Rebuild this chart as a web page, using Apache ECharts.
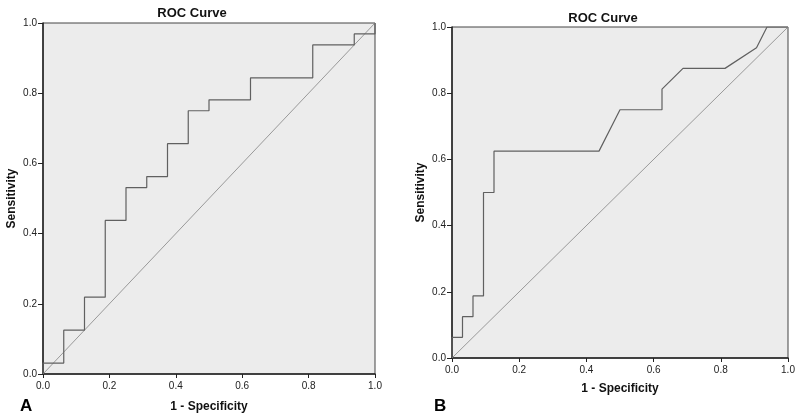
<!DOCTYPE html>
<html>
<head>
<meta charset="utf-8">
<script src="https://cdn.jsdelivr.net/npm/echarts@6/dist/echarts.min.js"></script>
<style>html,body{margin:0;padding:0;background:#fff}#c{width:800px;height:420px}</style>
</head>
<body>
<div id="c"></div>
<script>
// Panel A ROC curve (1 - specificity, sensitivity)
var fprA = [0, 0, 0.0625, 0.0625, 0.125, 0.125, 0.1875, 0.1875, 0.25, 0.25, 0.3125, 0.3125, 0.375, 0.375, 0.4375, 0.4375, 0.5, 0.5, 0.625, 0.625, 0.8125, 0.8125, 0.9375, 0.9375, 1, 1];
var tprA = [0, 0.03125, 0.03125, 0.125, 0.125, 0.21875, 0.21875, 0.4375, 0.4375, 0.53125, 0.53125, 0.5625, 0.5625, 0.65625, 0.65625, 0.75, 0.75, 0.78125, 0.78125, 0.84375, 0.84375, 0.9375, 0.9375, 0.96875, 0.96875, 1];
// Panel B ROC curve
var fprB = [0, 0, 0.03125, 0.03125, 0.0625, 0.0625, 0.09375, 0.09375, 0.125, 0.125, 0.4375, 0.5, 0.625, 0.625, 0.6875, 0.8125, 0.90625, 0.9375, 1];
var tprB = [0, 0.0625, 0.0625, 0.125, 0.125, 0.1875, 0.1875, 0.5, 0.5, 0.625, 0.625, 0.75, 0.75, 0.8125, 0.875, 0.875, 0.9375, 1, 1];
// Reference diagonal
var refX = [0, 1];
var refY = [0, 1];
var tickValues = [0, 0.2, 0.4, 0.6, 0.8, 1.0];
var titleText = 'ROC Curve';
var xName = '1 - Specificity';
var yName = 'Sensitivity';
var panelLabels = ['A', 'B'];

function zip(a, b) { return a.map(function (v, i) { return [v, b[i]]; }); }

var FONT = '"Liberation Sans", Arial, sans-serif';
function xAx(gi, gap) {
  return {
    gridIndex: gi, type: 'value', min: 0, max: 1, interval: 0.2,
    name: xName, nameLocation: 'middle', nameGap: gap,
    nameTextStyle: { fontFamily: FONT, fontWeight: 'bold', fontSize: 12, color: '#111' },
    axisLine: { show: true, lineStyle: { color: '#222', width: 1.5 } },
    axisTick: { show: true, length: 4, lineStyle: { color: '#222', width: 1 } },
    axisLabel: { fontFamily: FONT, fontSize: 10, color: '#222', margin: 7,
      formatter: function (v) { return v.toFixed(1); } },
    splitLine: { show: false }
  };
}
function yAx(gi, gap) {
  return {
    gridIndex: gi, type: 'value', min: 0, max: 1, interval: 0.2,
    name: yName, nameLocation: 'middle', nameGap: gap,
    nameTextStyle: { fontFamily: FONT, fontWeight: 'bold', fontSize: 12, color: '#111' },
    axisLine: { show: true, lineStyle: { color: '#222', width: 1.5 } },
    axisTick: { show: true, length: 5, lineStyle: { color: '#222', width: 1 } },
    axisLabel: { fontFamily: FONT, fontSize: 10, color: '#222', margin: 6,
      formatter: function (v) { return v.toFixed(1); } },
    splitLine: { show: false }
  };
}
function curve(i, data, color, w) {
  return { type: 'line', xAxisIndex: i, yAxisIndex: i, data: data, showSymbol: false,
    symbol: 'none', silent: true, animation: false,
    lineStyle: { color: color, width: w } };
}

var chart = echarts.init(document.getElementById('c'), null, { renderer: 'canvas' });
chart.setOption({
  animation: false,
  backgroundColor: '#ffffff',
  title: [
    { text: titleText, left: 187, top: 2, textAlign: 'center',
      textStyle: { fontFamily: FONT, fontWeight: 'bold', fontSize: 13, color: '#111' } },
    { text: titleText, left: 598, top: 7, textAlign: 'center',
      textStyle: { fontFamily: FONT, fontWeight: 'bold', fontSize: 13, color: '#111' } },
    { text: panelLabels[0], left: 15, top: 393,
      textStyle: { fontFamily: FONT, fontWeight: 'bold', fontSize: 17, color: '#000' } },
    { text: panelLabels[1], left: 429, top: 393,
      textStyle: { fontFamily: FONT, fontWeight: 'bold', fontSize: 17, color: '#000' } }
  ],
  grid: [
    { left: 43, top: 23, width: 332, height: 351, show: true, backgroundColor: '#ececec',
      borderColor: '#444', borderWidth: 1 },
    { left: 452, top: 27, width: 336, height: 331, show: true, backgroundColor: '#ececec',
      borderColor: '#444', borderWidth: 1 }
  ],
  xAxis: [xAx(0, 27), xAx(1, 25)],
  yAxis: [yAx(0, 25), yAx(1, 25)],
  series: [
    curve(0, zip(refX, refY), '#999999', 1),
    curve(0, zip(fprA, tprA), '#606060', 1.2),
    curve(1, zip(refX, refY), '#999999', 1),
    curve(1, zip(fprB, tprB), '#606060', 1.2)
  ]
});
</script>
</body>
</html>
